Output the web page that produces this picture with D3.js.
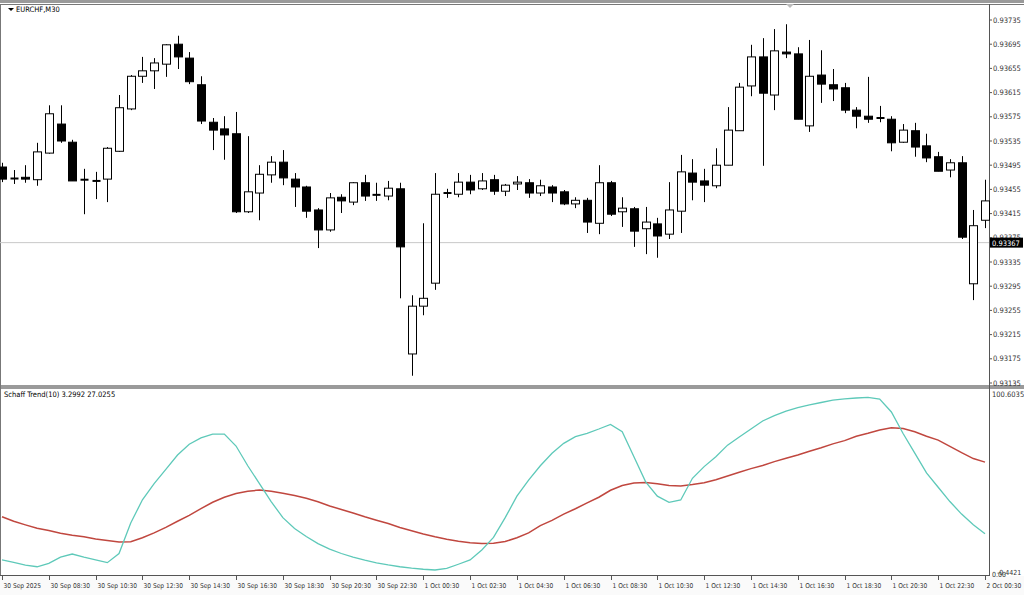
<!DOCTYPE html>
<html><head><meta charset="utf-8">
<script src="https://cdn.jsdelivr.net/npm/d3@7"></script>
<style>body{margin:0;background:#fff;font-family:Tahoma,"DejaVu Sans",sans-serif}</style>
</head><body><svg id="c" width="1024" height="595"></svg>
<script>
const opens=[.93492,.93472,.93475,.93471,.93515,.93563,.93533,.93471,.93469,.93472,.93518,.93588,.93642,.93651,.93662,.93695,.93672,.93628,.93566,.93555,.93547,.93418,.93449,.93479,.93500,.93472,.93459,.93421,.93388,.93442,.93434,.93466,.93446,.93444,.93456,.93183,.93262,.93300,.93449,.93447,.93467,.93456,.93471,.93452,.93464,.93466,.93449,.93459,.93451,.93431,.93437,.93399,.93466,.93418,.93423,.93390,.93398,.93381,.93419,.93482,.93469,.93461,.93495,.93552,.93626,.93674,.93611,.93682,.93679,.93560,.93644,.93628,.93623,.93586,.93576,.93573,.93571,.93533,.93552,.93527,.93509,.93487,.93499,.93299,.93404];
const highs=[.93499,.93487,.93495,.93532,.93594,.93594,.93537,.93489,.93484,.93525,.93611,.93644,.93674,.93672,.93695,.93709,.93682,.93642,.93573,.93576,.93583,.93543,.93495,.93510,.93520,.93482,.93461,.93424,.93449,.93447,.93467,.93479,.93466,.93469,.93466,.93280,.93399,.93482,.93456,.93482,.93479,.93482,.93479,.93464,.93477,.93472,.93471,.93462,.93454,.93442,.93441,.93495,.93469,.93442,.93426,.93426,.93408,.93467,.93512,.93505,.93489,.93523,.93591,.93631,.93694,.93705,.93720,.93728,.93690,.93702,.93685,.93654,.93631,.93591,.93641,.93593,.93576,.93563,.93565,.93547,.93517,.93505,.93510,.93421,.93471];
const lows=[.93467,.93464,.93466,.93461,.93514,.93532,.93469,.93414,.93439,.93434,.93517,.93586,.93631,.93621,.93641,.93654,.93629,.93563,.93520,.93504,.93416,.93416,.93404,.93466,.93462,.93426,.93408,.93358,.93385,.93416,.93429,.93436,.93436,.93437,.93275,.93147,.93247,.93289,.93441,.93442,.93447,.93454,.93446,.93444,.93454,.93441,.93444,.93434,.93429,.93424,.93383,.93381,.93411,.93393,.93360,.93348,.93342,.93373,.93383,.93437,.93434,.93457,.93495,.93552,.93609,.93494,.93586,.93672,.93571,.93550,.93598,.93601,.93581,.93556,.93565,.93566,.93518,.93532,.93509,.93500,.93485,.93475,.93373,.93272,.93391];
const closes=[.93472,.93473,.93472,.93517,.93580,.93535,.93469,.93470,.93468,.93523,.93590,.93642,.93651,.93664,.93694,.93674,.93633,.93568,.93553,.93545,.93418,.93451,.93480,.93500,.93474,.93459,.93419,.93388,.93441,.93436,.93466,.93444,.93445,.93457,.93360,.93262,.93275,.93447,.93448,.93467,.93454,.93469,.93452,.93462,.93467,.93449,.93461,.93449,.93431,.93437,.93401,.93466,.93414,.93424,.93386,.93401,.93378,.93421,.93484,.93467,.93462,.93495,.93553,.93624,.93674,.93614,.93684,.93679,.93571,.93642,.93629,.93621,.93586,.93576,.93571,.93572,.93532,.93553,.93525,.93507,.93485,.93499,.93376,.93395,.93436];
const stcFast=[7.4,6,4.5,3.6,5.5,9,10.7,9,7.5,5.9,11,28,41,50,58,66,72,75.5,77.7,77.7,71,60,50,40,31,25,20.5,16.5,13.5,11,9,7.3,5.8,4.6,3.6,2.8,2.2,1.8,2.7,5,7.4,13,20,31,43,52,60,67,72.5,76.2,78.1,80.5,83.1,79,65,51,43,39.6,40.9,53,59.5,65,71.5,76,80.5,85,88,90.5,92.5,94,95.3,96.6,97.3,97.8,98.2,97.2,90,78,67,56,48,40,33,27,22];
const stcSlow=[31.5,29,27,25.1,23.8,22.3,21.2,20.3,19.1,18.3,17.4,17.6,19.8,22.5,25.6,29,32.3,36,39.6,42.4,44.5,45.8,46.4,45.8,44.6,43.4,41.8,39.9,37.5,35.6,33.6,31.5,29.6,27.7,25.5,23.7,21.9,20.3,19,17.9,17,16.6,16.7,17.7,19.8,22.5,26.6,29.5,33,36,39.3,42.4,46.3,49,50.3,50.7,50,49,48.7,49.5,50.5,52.2,54.3,56.4,58.4,60.1,62.3,64.2,66,68.1,70,72.2,74,76.5,78.1,80,81.2,80.8,79,76.5,74.3,70.8,67.3,64,62];
const priceTicks=[0.93735,0.93695,0.93655,0.93615,0.93575,0.93535,0.93495,0.93455,0.93415,0.93375,0.93335,0.93295,0.93255,0.93215,0.93175,0.93135];
const timeLabels=["30 Sep 2025","30 Sep 08:30","30 Sep 10:30","30 Sep 12:30","30 Sep 14:30","30 Sep 16:30","30 Sep 18:30","30 Sep 20:30","30 Sep 22:30","1 Oct 00:30","1 Oct 02:30","1 Oct 04:30","1 Oct 06:30","1 Oct 08:30","1 Oct 10:30","1 Oct 12:30","1 Oct 14:30","1 Oct 16:30","1 Oct 18:30","1 Oct 20:30","1 Oct 22:30","2 Oct 00:30"];
const currentPrice=0.93367;

const svg=d3.select("#c");
const W=1024,PR=989;
const idx=d3.range(opens.length);
const x=d3.scaleLinear().domain([0,84]).range([2,985]);
const y=d3.scaleLinear().domain([0.93135,0.93735]).range([383,20]);
const yi=d3.scaleLinear().domain([-0.4421,100.6035]).range([574,393]);
const F=6.6, FF='"Liberation Sans Narrow","DejaVu Sans Condensed",sans-serif';
svg.append("rect").attr("x",0).attr("y",0).attr("width",W).attr("height",595).attr("fill","#fff");
svg.append("rect").attr("x",0).attr("y",0).attr("width",W).attr("height",3).attr("fill","#9a9a9a");
svg.append("line").attr("x1",0).attr("x2",W).attr("y1",4.5).attr("y2",4.5).attr("stroke","#777");
svg.append("rect").attr("x",0).attr("y",385).attr("width",W).attr("height",4).attr("fill","#9a9a9a");
svg.append("line").attr("x1",PR+.5).attr("x2",PR+.5).attr("y1",4).attr("y2",576).attr("stroke","#555");
svg.append("line").attr("x1",0.5).attr("x2",0.5).attr("y1",4).attr("y2",576).attr("stroke","#777");
svg.append("line").attr("x1",0).attr("x2",PR).attr("y1",575.5).attr("y2",575.5).attr("stroke","#555");
svg.append("rect").attr("x",0).attr("y",576).attr("width",W).attr("height",19).attr("fill","#fafafa");
svg.append("line").attr("x1",0).attr("x2",PR).attr("y1",y(currentPrice)).attr("y2",y(currentPrice)).attr("stroke","#c8c8c8");
const pa=svg.append("g").attr("font-family",FF);
priceTicks.forEach(p=>{
  pa.append("line").attr("x1",PR).attr("x2",PR+3).attr("y1",y(p)).attr("y2",y(p)).attr("stroke","#555");
  pa.append("text").attr("x",993).attr("y",y(p)+2.5).attr("font-size",7.5).attr("fill","#333").text(p.toFixed(5));
});
pa.append("rect").attr("x",PR+1).attr("y",y(currentPrice)-5).attr("width",33).attr("height",10).attr("fill","#000");
pa.append("text").attr("x",992).attr("y",y(currentPrice)+3).attr("font-size",7.5).attr("fill","#fff").text(currentPrice.toFixed(5));
const g=svg.append("g");
idx.forEach(i=>{
  const cx=Math.round(x(i))+.5;
  g.append("line").attr("x1",cx).attr("x2",cx).attr("y1",y(highs[i])).attr("y2",y(lows[i])).attr("stroke","#000");
  const t=y(Math.max(opens[i],closes[i])),b=y(Math.min(opens[i],closes[i]));
  const up=closes[i]>opens[i];
  if(b-t<1.5){g.append("line").attr("x1",cx-4).attr("x2",cx+4).attr("y1",t).attr("y2",t).attr("stroke","#000").attr("stroke-width",2);}
  else g.append("rect").attr("x",cx-4).attr("y",t).attr("width",8).attr("height",b-t).attr("fill",up?"#fff":"#000").attr("stroke","#000");
});
svg.append("path").attr("d","M8,8 L14,8 L11,11Z").attr("fill","#000");
svg.append("text").attr("x",16).attr("y",12).attr("font-size",7.5).attr("font-family",FF).attr("fill","#000").text("EURCHF,M30");
svg.append("path").attr("d","M786,4 L794,4 L790,8Z").attr("fill","#bbb");
svg.append("text").attr("x",4).attr("y",397).attr("font-size",7.5).attr("font-family",FF).attr("fill","#000").text("Schaff Trend(10) 3.2992 27.0255");
svg.append("text").attr("x",992).attr("y",397).attr("font-size",7.5).attr("font-family",FF).attr("fill","#333").text("100.6035");
svg.append("text").attr("x",992).attr("y",577).attr("font-size",7).attr("font-family",FF).attr("fill","#333").text("0.00");
svg.append("text").attr("x",997).attr("y",575).attr("font-size",7).attr("font-family",FF).attr("fill","#333").text("-0.4421");
const ln=d3.line().x((d,i)=>x(i)).y(d=>yi(d));
svg.append("path").attr("d",ln(stcSlow)).attr("fill","none").attr("stroke","#c0473f").attr("stroke-width",1.5);
svg.append("path").attr("d",ln(stcFast)).attr("fill","none").attr("stroke","#5ec9b9").attr("stroke-width",1.3);
timeLabels.forEach((t,k)=>{
  const tx=Math.round(x(k*4))+.5;
  svg.append("line").attr("x1",tx).attr("x2",tx).attr("y1",576).attr("y2",580).attr("stroke","#555");
  svg.append("text").attr("x",tx+1).attr("y",588).attr("font-size",F).attr("font-family",FF).attr("fill","#333").text(t);
});
</script></body></html>
